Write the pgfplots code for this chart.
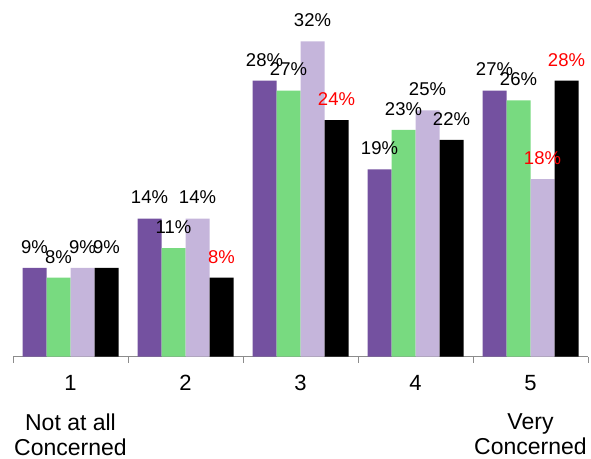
\documentclass[border=0pt]{standalone}
\usepackage{pgfplots}
\pgfplotsset{compat=1.18}
\usepackage{fontspec}
\setmainfont{Liberation Sans}
\definecolor{cpurple}{RGB}{116,81,160}
\definecolor{cgreen}{RGB}{120,218,128}
\definecolor{clilac}{RGB}{197,181,219}
\definecolor{caxis}{RGB}{140,140,140}
\newcommand{\R}[1]{\textcolor{red}{#1}}
\begin{document}
\begin{tikzpicture}
\path[use as bounding box] (-13bp,-102.5bp) rectangle (578bp,356.5bp);
\begin{axis}[
  at={(0,0)}, anchor=south west,
  scale only axis, width=575bp, height=325bp,
  xmin=0.5, xmax=5.5, ymin=0, ymax=33,
  ybar=0pt, bar width=24bp,
  axis x line*=bottom, axis y line=none,
  axis line style={draw=caxis, line width=1pt},
  xtick={0.5,1.5,2.5,3.5,4.5,5.5}, xticklabels={},
  tick align=outside, major tick length=6bp,
  xtick style={draw=caxis, line width=1pt},
  extra x ticks={1,2,3,4,5},
  extra x tick labels={1,2,3,4,5},
  extra x tick style={major tick length=0pt},
  xticklabel style={font=\fontsize{22bp}{24bp}\selectfont, anchor=center, yshift=-26.5bp},
  clip=false,
  point meta=explicit symbolic,
  nodes near coords,
  every node near coord/.append style={anchor=center, yshift=21bp, font=\fontsize{18.5bp}{20bp}\selectfont, text=black},
]
\addplot[fill=cpurple, draw=none] coordinates {(1,9)[9\%] (2,14)[14\%] (3,28)[28\%] (4,19)[19\%] (5,27)[27\%]};
\addplot[fill=cgreen, draw=none] coordinates {(1,8)[8\%] (2,11)[11\%] (3,27)[27\%] (4,23)[23\%] (5,26)[26\%]};
\addplot[fill=clilac, draw=none] coordinates {(1,9)[9\%] (2,14)[14\%] (3,32)[32\%] (4,25)[25\%] (5,18)[\R{18\%}]};
\addplot[fill=black, draw=none] coordinates {(1,9)[9\%] (2,8)[\R{8\%}] (3,24)[\R{24\%}] (4,22)[22\%] (5,28)[\R{28\%}]};
\node[align=center, font=\fontsize{23bp}{25bp}\selectfont] at ([yshift=-78bp]axis cs:1,0) {Not at all\\Concerned};
\node[align=center, font=\fontsize{23bp}{25bp}\selectfont] at ([yshift=-78bp]axis cs:5,0) {Very\\Concerned};
\end{axis}
\end{tikzpicture}
\end{document}
